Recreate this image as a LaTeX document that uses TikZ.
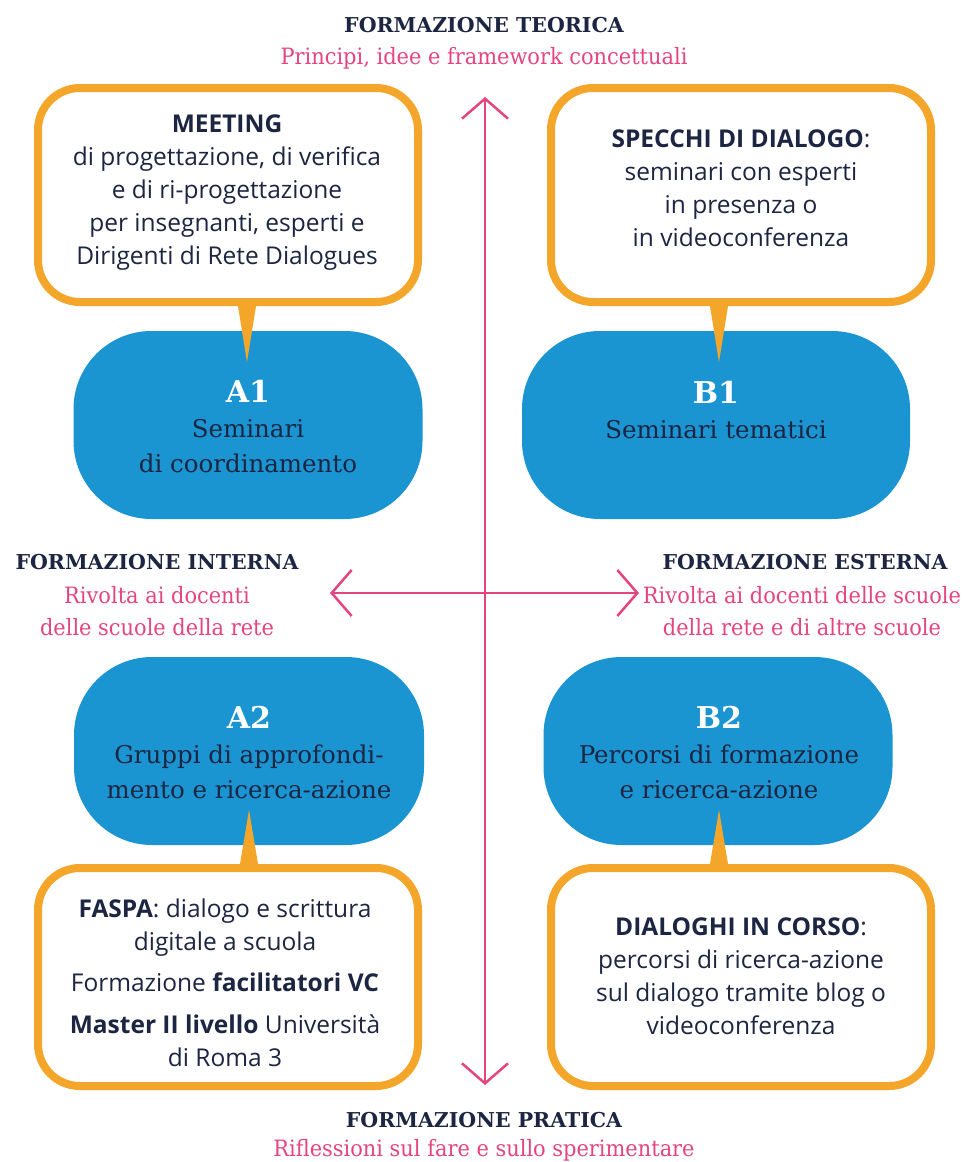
\documentclass[tikz,border=0pt]{standalone}
\usepackage{fontspec}
\setmainfont{Liberation Serif}
\newfontfamily\boxsans{Open Sans}
\newfontfamily\slab{DejaVu Serif}
\newfontfamily\slabnarrow[FakeStretch=0.93]{DejaVu Serif}
\usetikzlibrary{arrows.meta}
\definecolor{orng}{HTML}{F4A62A}
\definecolor{blu}{HTML}{1A95D2}
\definecolor{pnk}{HTML}{E4457F}
\definecolor{navy}{HTML}{1C2541}
\tikzset{
  obox/.style={draw=orng, line width=8pt, rounded corners=42pt, fill=white,
    minimum width=380pt, minimum height=214pt, inner sep=0pt},
  bbox/.style={fill=blu, rounded corners=78pt, minimum height=188pt, inner sep=0pt},
  btxt/.style={text=navy, font=\slab\fontsize{24.5}{35}\selectfont, align=center},
  head/.style={text=navy, font=\slab\bfseries\fontsize{20.5}{24}\selectfont},
  subtxt/.style={text=pnk, font=\slabnarrow\fontsize{22.5}{32}\selectfont, align=center},
  txt/.style={text=navy, font=\boxsans\fontsize{24.5}{33}\selectfont, align=center},
  axisline/.style={draw=pnk, line width=2.5pt,
    {Straight Barb[length=20pt,width=46pt,line width=2.5pt]}-{Straight Barb[length=20pt,width=46pt,line width=2.5pt]}},
  tail/.style={fill=orng}
}
\newcommand{\blab}[1]{{\color{white}\bfseries\fontsize{30}{35}\selectfont #1}}
\begin{document}
\begin{tikzpicture}[x=1pt,y=-1pt]
\useasboundingbox[fill=white] (0,0) rectangle (963,1162);

% axes
\coordinate (vtop) at (485,97);
\coordinate (vbot) at (485,1085);
\coordinate (hleft) at (330,593);
\coordinate (hright) at (639,593);
\draw[axisline] (vtop) -- (vbot);
\draw[axisline] (hleft) -- (hright);

% blue nodes
\node[bbox, minimum width=349pt] (A1) at (248,425) {};
\node[bbox, minimum width=388pt] (B1) at (716,425) {};
\node[bbox, minimum width=350pt] (A2) at (249,751) {};
\node[bbox, minimum width=349pt] (B2) at (718,751) {};

% orange boxes
\node[obox] (TL) at (228,195) {};
\node[obox] (TR) at (741,195) {};
\node[obox, minimum height=218pt] (BL) at (228,977) {};
\node[obox, minimum height=218pt] (BR) at (741,977) {};

% tails
\fill[tail] (237,300) -- (257,300) -- (247,362) -- cycle;
\fill[tail] (709,300) -- (729,300) -- (719,362) -- cycle;
\fill[tail] (239,870) -- (259,870) -- (249,810) -- cycle;
\fill[tail] (709,870) -- (729,870) -- (719,810) -- cycle;

% blue texts
\node[btxt] (A1t) at (248,427) {\blab{A1}\\Seminari\\di coordinamento};
\node[btxt] (B1t) at (716,410) {\blab{B1}\\Seminari tematici};
\node[btxt] (A2t) at (249,753) {\blab{A2}\\Gruppi di approfondi-\\mento e ricerca-azione};
\node[btxt] (B2t) at (719,753) {\blab{B2}\\Percorsi di formazione\\e ricerca-azione};

% orange box texts
\node[txt] (TLt) at (227,193) {\textbf{MEETING}\\di progettazione, di verifica\\e di ri-progettazione\\per insegnanti, esperti e\\Dirigenti di Rete Dialogues};
\node[txt] (TRt) at (741,188) {\textbf{SPECCHI DI DIALOGO}:\\seminari con esperti\\in presenza o\\in videoconferenza};
\node[txt] (BLt) at (225,983) {\textbf{FASPA}: dialogo e scrittura\\digitale a scuola\\[8pt]Formazione \textbf{facilitatori VC}\\[9pt]\textbf{Master II livello} Università\\di Roma 3};
\node[txt] (BRt) at (741,976) {\textbf{DIALOGHI IN CORSO}:\\percorsi di ricerca-azione\\sul dialogo tramite blog o\\videoconferenza};

% axis labels
\node[head] (ht) at (484,25) {FORMAZIONE TEORICA};
\node[subtxt] (st) at (484,58) {Principi, idee e framework concettuali};
\node[head] (hi) at (157,562) {FORMAZIONE INTERNA};
\node[subtxt] (si) at (157,611) {Rivolta ai docenti\\delle scuole della rete};
\node[head] (he) at (805,562) {FORMAZIONE ESTERNA};
\node[subtxt] (se) at (802,611) {Rivolta ai docenti delle scuole\\della rete e di altre scuole};
\node[head] (hp) at (484,1120) {FORMAZIONE PRATICA};
\node[subtxt] (sp) at (484,1150) {Riflessioni sul fare e sullo sperimentare};
\end{tikzpicture}
\end{document}
